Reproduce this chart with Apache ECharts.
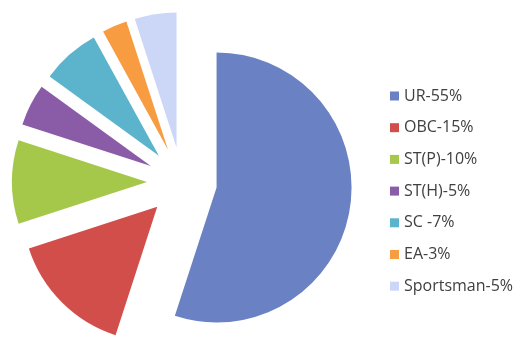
<!DOCTYPE html>
<html>
<head>
<meta charset="utf-8">
<script src="https://cdn.jsdelivr.net/npm/echarts@6/dist/echarts.min.js"></script>
<style>
  html, body { margin: 0; padding: 0; background: #ffffff; }
  #chart { width: 523px; height: 345px; }
</style>
</head>
<body>
<div id="chart"></div>
<script>
// Reservation shares by category
const categories = ['UR-55%', 'OBC-15%', 'ST(P)-10%', 'ST(H)-5%', 'SC -7%', 'EA-3%', 'Sportsman-5%'];
const shares = [55, 15, 10, 5, 7, 3, 5];
const colors = ['#6a82c4', '#d24e4a', '#a6c84a', '#8a5ca8', '#5bb4cc', '#f89c42', '#ccd6f6'];

const chart = echarts.init(document.getElementById('chart'), null, { renderer: 'canvas' });

chart.setOption({
  animation: false,
  backgroundColor: '#ffffff',
  color: colors,
  legend: {
    orient: 'vertical',
    left: 390,
    top: 88,
    padding: 0,
    icon: 'rect',
    itemWidth: 9,
    itemHeight: 9,
    itemGap: 15.7,
    selectedMode: false,
    textStyle: {
      fontFamily: 'Open Sans',
      fontSize: 16,
      color: '#404040',
      lineHeight: 16
    },
    data: categories
  },
  series: [{
    type: 'pie',
    center: [182, 182],
    radius: 135,
    startAngle: 90,
    clockwise: true,
    selectedMode: 'multiple',
    selectedOffset: 35,
    label: { show: false },
    labelLine: { show: false },
    emphasis: { disabled: true },
    select: { itemStyle: { borderWidth: 0 } },
    itemStyle: { borderWidth: 0 },
    data: categories.map((name, i) => ({ name: name, value: shares[i], selected: true }))
  }]
});
</script>
</body>
</html>
